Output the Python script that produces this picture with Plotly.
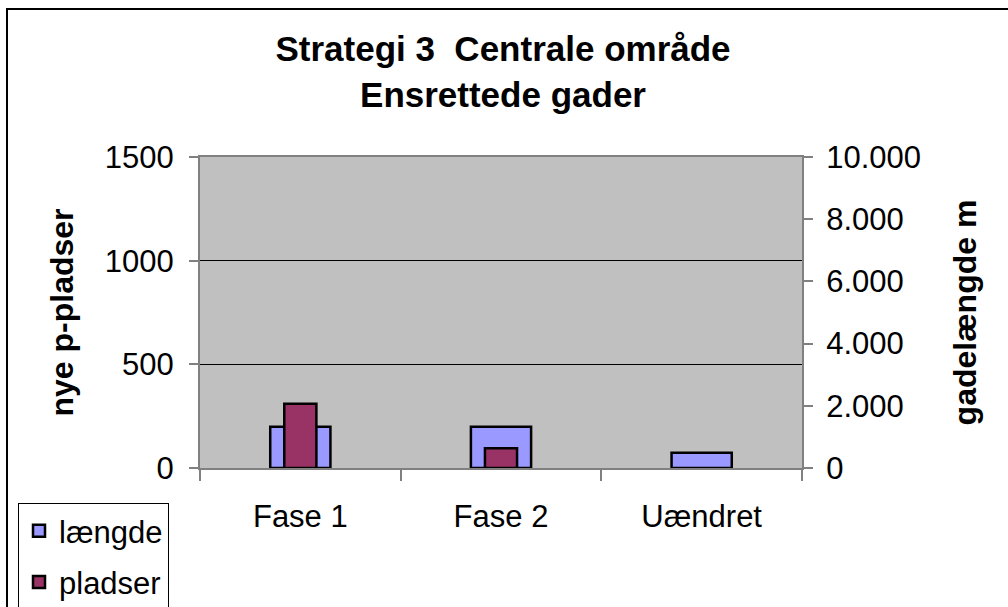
import plotly.graph_objects as go

categories = ["Fase 1", "Fase 2", "Uændret"]
laengde = [1330, 1330, 490]      # gadelængde m (right axis)
pladser = [310, 95, None]        # nye p-pladser (left axis)

left_ticks = [0, 500, 1000, 1500]
left_ticktext = ["0", "500", "1000", "1500"]
right_ticks = [0, 2000, 4000, 6000, 8000, 10000]
right_ticktext = ["0", "2.000", "4.000", "6.000", "8.000", "10.000"]

FONT = "Arial, 'Liberation Sans', sans-serif"
W, H = 1008, 607
L, R, T, B = 200, 206, 157, 139
pw, ph = W - L - R, H - T - B

def px_x(x):
    return (x - L) / pw

def px_y(y):
    return (H - B - y) / ph

fig = go.Figure()
fig.add_trace(go.Bar(
    x=categories, y=laengde, name="længde", yaxis="y", legendgroup="a",
    width=0.3, marker=dict(color="#9999FF", line=dict(color="black", width=2.5)),
))
fig.add_trace(go.Bar(
    x=categories, y=pladser, name="pladser", yaxis="y2", legendgroup="b",
    width=0.16, marker=dict(color="#993366", line=dict(color="black", width=2.5)),
))

axis_line = "#808080"
fig.update_layout(
    width=W, height=H,
    margin=dict(l=L, r=R, t=T, b=B, autoexpand=False),
    paper_bgcolor="white",
    plot_bgcolor="#C0C0C0",
    barmode="overlay",
    font=dict(family=FONT, color="black", size=31),
    title=dict(
        text="<b>Strategi 3  Centrale område<br>Ensrettede gader</b>",
        font=dict(family=FONT, size=35, color="black"),
        x=px_x(503), xanchor="center", xref="paper",
        y=1 - 61 / H, yanchor="top", yref="container",
    ),
    xaxis=dict(
        type="category", automargin=False,
        showline=True, linecolor=axis_line, linewidth=2, mirror=True,
        ticks="outside", tickson="boundaries", ticklen=11, tickcolor=axis_line, tickwidth=1.5,
        tickfont=dict(size=31),
        ticklabelstandoff=20,
        showgrid=False,
    ),
    yaxis=dict(
        side="right", range=[0, 10000], automargin=False,
        tickvals=right_ticks, ticktext=right_ticktext,
        ticks="outside", ticklen=9, tickcolor=axis_line, tickwidth=1.5,
        ticklabelstandoff=7,
        showline=True, linecolor=axis_line, linewidth=2,
        showgrid=False, zeroline=False,
        tickfont=dict(size=31),
        title=dict(text="<b>gadelængde m</b>", font=dict(size=32), standoff=34),
    ),
    yaxis2=dict(
        overlaying="y", side="left", range=[0, 1500], automargin=False,
        tickvals=left_ticks, ticktext=left_ticktext,
        ticks="outside", ticklen=9, tickcolor=axis_line, tickwidth=1.5,
        ticklabelstandoff=9,
        showline=True, linecolor=axis_line, linewidth=2,
        showgrid=True, gridcolor="black", gridwidth=1, zeroline=False,
        tickfont=dict(size=31),
        title=dict(text="<b>nye p-pladser</b>", font=dict(size=32), standoff=22),
    ),
    legend=dict(
        x=px_x(18), xanchor="left", y=px_y(503), yanchor="top",
        bgcolor="white", bordercolor="black", borderwidth=1,
        font=dict(size=31), traceorder="grouped", tracegroupgap=8,
        entrywidth=125, entrywidthmode="pixels",
    ),
    showlegend=True,
    shapes=[
        dict(type="rect", xref="paper", yref="paper",
             x0=px_x(7), x1=px_x(1060), y0=px_y(9), y1=px_y(660),
             line=dict(color="black", width=2), fillcolor="rgba(0,0,0,0)", layer="above"),
    ],
)

fig.write_html("out.html", config={"displayModeBar": False},
               post_script="document.body.style.margin='0';")
